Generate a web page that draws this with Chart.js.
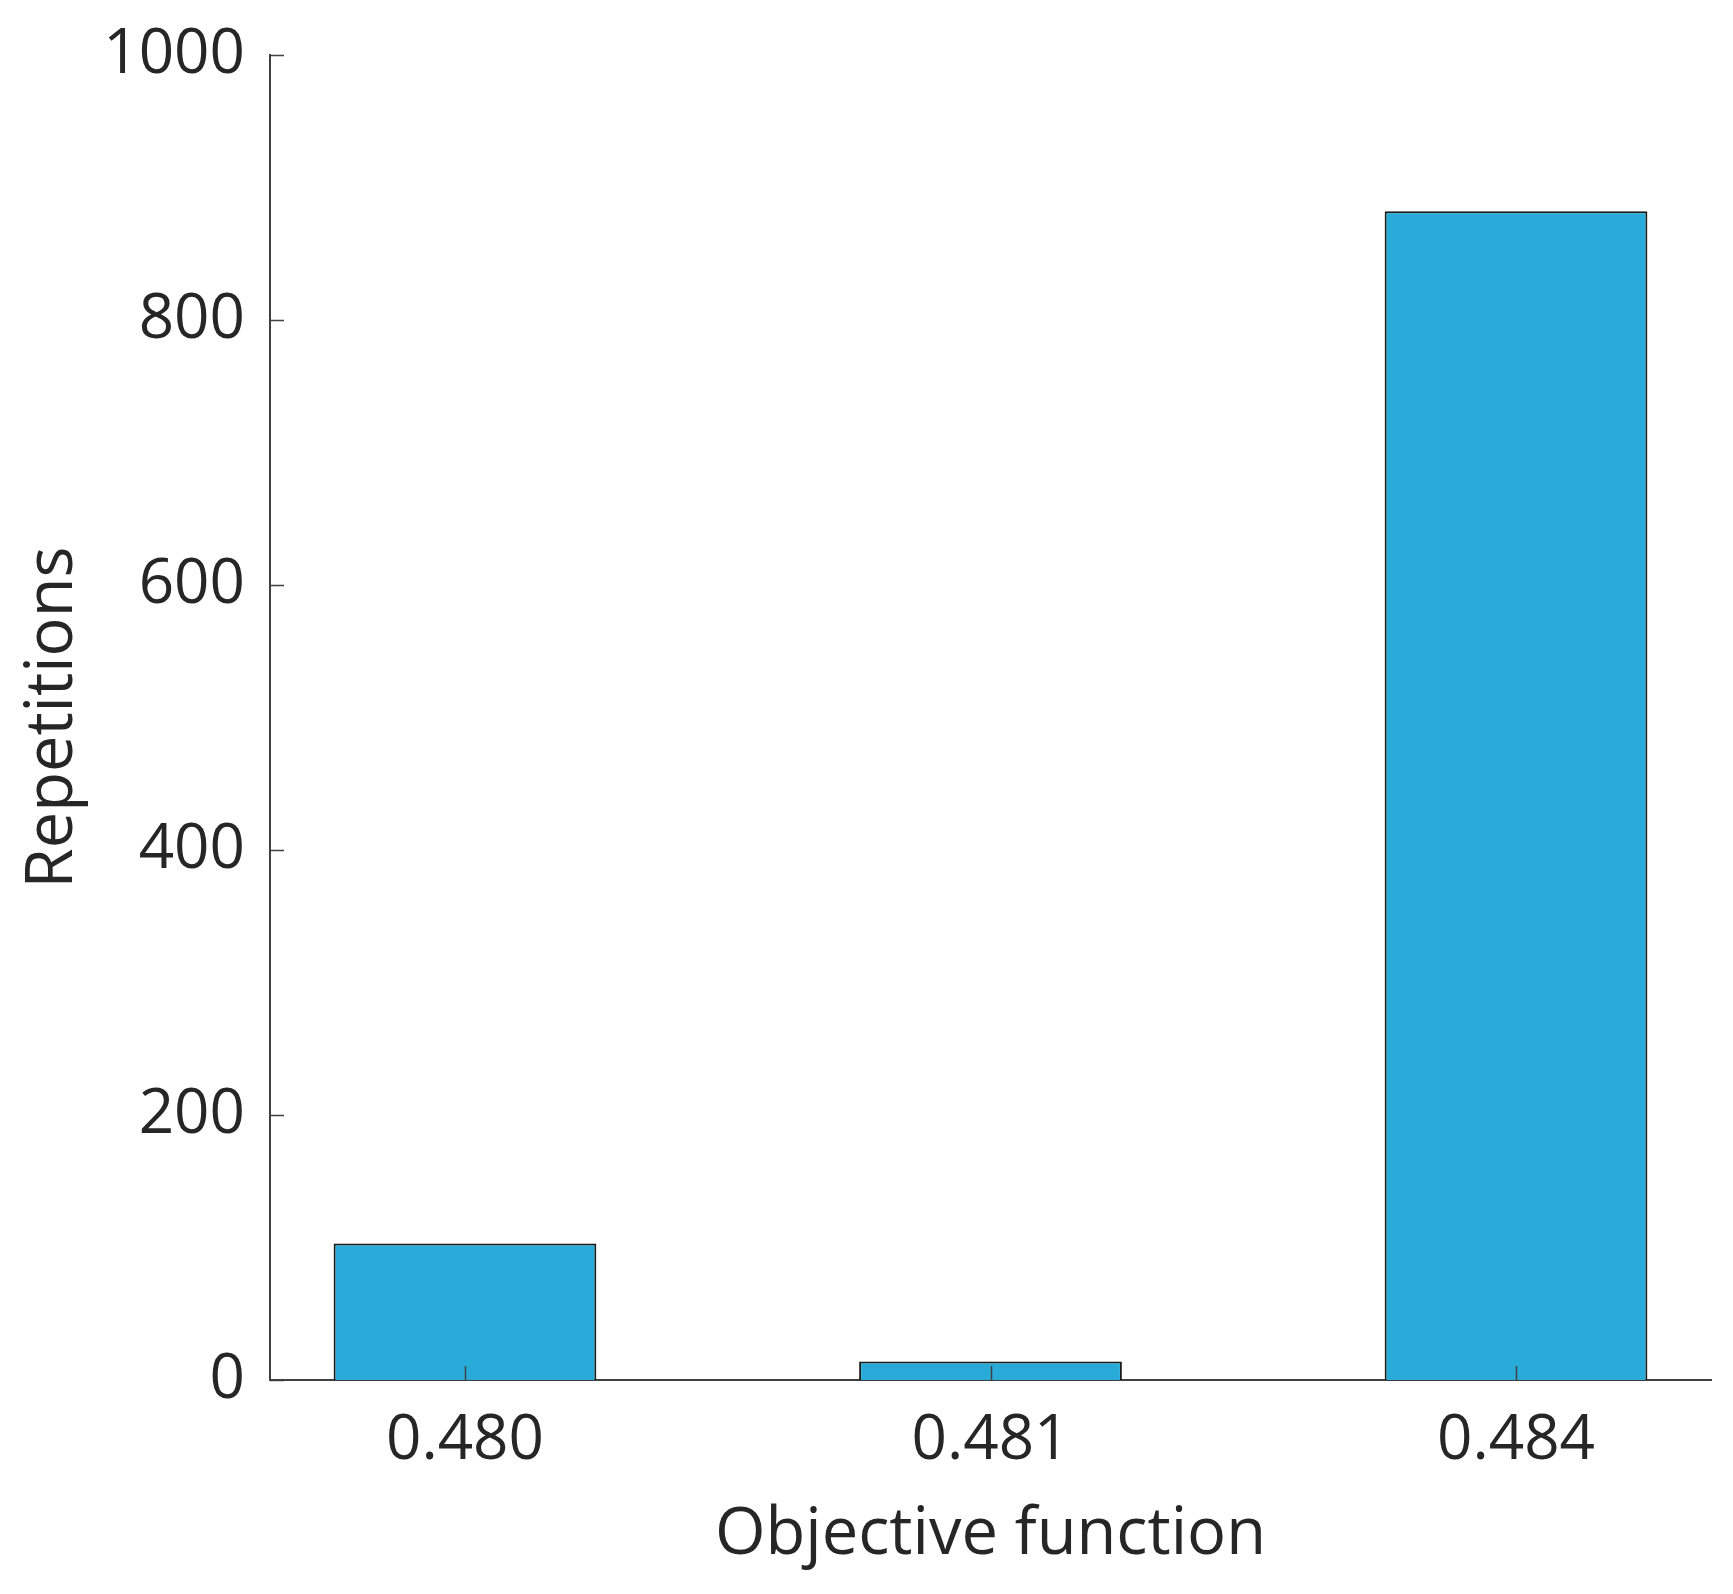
<!DOCTYPE html>
<html lang="en">
<head>
    <meta charset="UTF-8">
    <title>Repetitions per objective function value</title>
    <script src="https://cdn.jsdelivr.net/npm/chart.js"></script>
    <style>
        html, body {
            margin: 0;
            padding: 0;
            background: #ffffff;
        }
        #chart {
            display: block;
        }
    </style>
</head>
<body>
    <canvas id="chart" width="1733" height="1594"></canvas>

    <script>
        // values
        const categories = ['0.480', '0.481', '0.484'];
        const repetitions = [103, 14, 882];
        const yTicks = [0, 200, 400, 600, 800, 1000];

        const textColor = '#262626';
        const axisColor = '#404040';
        const font = "'Open Sans', 'Noto Sans', sans-serif";

        // small tick marks pointing into the plot, like the original
        const innerTicks = {
            id: 'innerTicks',
            afterDatasetsDraw(chart) {
                const { ctx, chartArea, scales: { x, y } } = chart;
                ctx.save();
                ctx.strokeStyle = axisColor;
                ctx.lineWidth = 1.5;
                ctx.beginPath();
                y.ticks.forEach(t => {
                    const py = Math.round(y.getPixelForValue(t.value)) + 0.5;
                    ctx.moveTo(chartArea.left, py);
                    ctx.lineTo(chartArea.left + 14, py);
                });
                x.ticks.forEach(t => {
                    const px = Math.round(x.getPixelForValue(t.value)) + 0.5;
                    ctx.moveTo(px, chartArea.bottom);
                    ctx.lineTo(px, chartArea.bottom - 14);
                });
                ctx.stroke();
                ctx.restore();
            }
        };

        const ctx = document.getElementById('chart').getContext('2d');
        new Chart(ctx, {
            type: 'bar',
            data: {
                datasets: [{
                    data: repetitions.map((v, i) => ({ x: i, y: v })),
                    backgroundColor: '#29abd9',
                    borderColor: '#1a1a1a',
                    borderWidth: 2,
                    barPercentage: 0.5,
                    categoryPercentage: 1.0
                }]
            },
            options: {
                responsive: false,
                animation: false,
                layout: {
                    padding: { top: 55, right: 22, left: 0, bottom: 0 }
                },
                plugins: {
                    legend: { display: false },
                    tooltip: { enabled: false }
                },
                scales: {
                    x: {
                        type: 'linear',
                        offset: false,
                        min: -0.371,
                        max: categories.length - 1 + 0.371,
                        afterBuildTicks: scale => {
                            scale.ticks = categories.map((c, i) => ({ value: i }));
                        },
                        afterFit: scale => {
                            scale.height = 214;
                            scale.paddingLeft = 0;
                            scale.paddingRight = 0;
                        },
                        grid: { display: false, drawTicks: false },
                        border: { display: true, color: axisColor, width: 2 },
                        ticks: {
                            padding: 24,
                            color: textColor,
                            font: { family: font, size: 62 },
                            maxRotation: 0,
                            callback: v => categories[v]
                        },
                        title: {
                            display: true,
                            text: 'Objective function',
                            color: textColor,
                            font: { family: font, size: 65 },
                            padding: { top: 0, bottom: 20 }
                        }
                    },
                    y: {
                        min: 0,
                        max: 1000,
                        afterBuildTicks: scale => {
                            scale.ticks = yTicks.map(v => ({ value: v }));
                        },
                        afterFit: scale => {
                            scale.width = 270;
                            scale.paddingTop = 0;
                            scale.paddingBottom = 0;
                        },
                        grid: { display: false, drawTicks: false },
                        border: { display: true, color: axisColor, width: 2 },
                        ticks: {
                            padding: 25,
                            color: textColor,
                            font: { family: font, size: 62 },
                            callback: v => String(v)
                        },
                        title: {
                            display: true,
                            text: 'Repetitions',
                            color: textColor,
                            font: { family: font, size: 65 },
                            padding: { top: 14, bottom: 0 }
                        }
                    }
                }
            },
            plugins: [innerTicks]
        });
    </script>
</body>
</html>
